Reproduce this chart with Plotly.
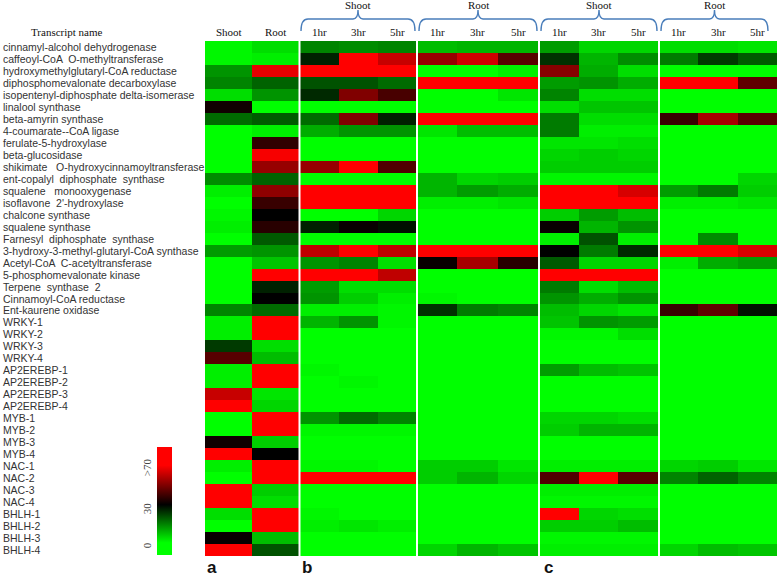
import plotly.graph_objects as go

genes = [
    "cinnamyl-alcohol dehydrogenase",
    "caffeoyl-CoA  O-methyltransferase",
    "hydroxymethylglutaryl-CoA reductase",
    "diphosphomevalonate decarboxylase",
    "isopentenyl-diphosphate delta-isomerase",
    "linalool synthase",
    "beta-amyrin synthase",
    "4-coumarate--CoA ligase",
    "ferulate-5-hydroxylase",
    "beta-glucosidase",
    "shikimate   O-hydroxycinnamoyltransferase",
    "ent-copalyl  diphosphate  synthase",
    "squalene   monooxygenase",
    "isoflavone  2'-hydroxylase",
    "chalcone synthase",
    "squalene synthase",
    "Farnesyl  diphosphate  synthase",
    "3-hydroxy-3-methyl-glutaryl-CoA synthase",
    "Acetyl-CoA  C-acetyltransferase",
    "5-phosphomevalonate kinase",
    "Terpene  synthase  2",
    "Cinnamoyl-CoA reductase",
    "Ent-kaurene oxidase",
    "WRKY-1", "WRKY-2", "WRKY-3", "WRKY-4",
    "AP2EREBP-1", "AP2EREBP-2", "AP2EREBP-3", "AP2EREBP-4",
    "MYB-1", "MYB-2", "MYB-3", "MYB-4",
    "NAC-1", "NAC-2", "NAC-3", "NAC-4",
    "BHLH-1", "BHLH-2", "BHLH-3", "BHLH-4",
]

column_labels = ["Shoot", "Root", "1hr", "3hr", "5hr", "1hr", "3hr", "5hr",
                 "1hr", "3hr", "5hr", "1hr", "3hr", "5hr"]
group_labels = ["Shoot", "Root", "Shoot", "Root"]
panel_labels = ["a", "b", "c"]
scale_tick_values = [0, 30, 70]
scale_tick_texts = ["0", "30", ">70"]

# expression values, one list per column
a_shoot = [3, 3, 15, 17, 6, 35, 20, 2, 2, 2, 2, 16, 4, 2, 3, 4, 2, 14, 2, 2, 2, 2, 17,
           4, 4, 26, 44, 4, 4, 58, 65, 2, 2, 35, 65, 4, 2, 65, 65, 6, 2, 34, 65]
a_root = [6, 4, 62, 21, 15, 2, 22, 4, 39, 64, 52, 21, 51, 40, 33, 38, 22, 15, 9, 65, 29, 33, 20,
          65, 65, 6, 10, 65, 65, 5, 7, 65, 65, 8, 33, 65, 65, 8, 6, 65, 65, 10, 23]
b_shoot_1hr = [17, 29, 65, 23, 28, 2, 20, 12, 2, 2, 52, 2, 65, 65, 2, 29, 2, 57, 15, 65, 14, 15, 4,
               11, 2, 2, 2, 3, 2, 2, 2, 15, 3, 2, 2, 3, 65, 2, 2, 3, 4, 2, 2]
b_shoot_3hr = [16, 65, 65, 23, 49, 2, 49, 15, 2, 2, 65, 2, 65, 65, 2, 34, 2, 65, 17, 65, 6, 8, 4,
               15, 2, 2, 2, 2, 3, 2, 2, 20, 3, 2, 2, 3, 65, 2, 2, 2, 5, 2, 2]
b_shoot_5hr = [17, 58, 65, 20, 42, 2, 29, 15, 2, 2, 43, 2, 65, 65, 7, 31, 2, 57, 6, 57, 6, 4, 3,
               3, 2, 2, 2, 2, 2, 2, 2, 17, 3, 2, 2, 2, 65, 2, 2, 2, 4, 2, 2]
b_root_1hr = [10, 52, 2, 65, 2, 2, 65, 5, 2, 2, 2, 11, 11, 4, 2, 2, 2, 65, 34, 2, 2, 3, 27,
              2, 2, 2, 2, 2, 2, 2, 2, 2, 2, 2, 2, 8, 8, 2, 2, 2, 2, 2, 7]
b_root_3hr = [11, 59, 2, 65, 2, 2, 65, 10, 2, 2, 2, 7, 14, 4, 2, 2, 2, 65, 54, 2, 2, 2, 18,
              2, 2, 2, 2, 2, 2, 2, 2, 2, 2, 2, 2, 8, 11, 2, 2, 2, 2, 2, 11]
b_root_5hr = [11, 44, 4, 65, 5, 2, 65, 10, 2, 2, 2, 8, 12, 5, 2, 2, 2, 65, 38, 2, 2, 2, 17,
              2, 2, 2, 2, 2, 2, 2, 2, 2, 2, 2, 2, 5, 7, 2, 2, 2, 2, 2, 9]
c_shoot_1hr = [14, 27, 50, 14, 17, 6, 18, 18, 5, 7, 8, 3, 65, 65, 8, 34, 4, 33, 22, 65, 18, 15, 10,
               9, 3, 2, 2, 14, 2, 2, 2, 7, 8, 2, 2, 4, 43, 4, 3, 65, 8, 3, 4]
c_shoot_3hr = [7, 11, 12, 15, 6, 9, 6, 4, 5, 8, 8, 3, 65, 65, 14, 11, 23, 18, 7, 65, 6, 12, 7,
               15, 3, 2, 2, 10, 2, 2, 2, 7, 11, 2, 2, 4, 65, 4, 3, 7, 8, 3, 4]
c_shoot_5hr = [7, 16, 6, 12, 6, 9, 6, 4, 6, 7, 8, 3, 60, 65, 10, 15, 4, 28, 7, 65, 10, 15, 5,
               14, 6, 2, 2, 9, 2, 2, 2, 6, 11, 2, 2, 4, 44, 4, 3, 6, 10, 3, 4]
c_root_1hr = [6, 18, 2, 65, 2, 2, 40, 2, 2, 2, 2, 2, 14, 4, 2, 2, 2, 65, 4, 2, 2, 2, 40,
              2, 2, 2, 2, 2, 2, 2, 2, 2, 2, 2, 2, 7, 17, 2, 2, 2, 2, 2, 7]
c_root_3hr = [6, 26, 2, 65, 2, 2, 54, 2, 2, 2, 2, 2, 18, 4, 2, 2, 16, 65, 12, 2, 2, 2, 45,
              2, 2, 2, 2, 2, 2, 2, 2, 2, 2, 2, 2, 8, 21, 2, 2, 2, 2, 2, 10]
c_root_5hr = [5, 22, 2, 45, 2, 2, 44, 2, 2, 2, 2, 7, 8, 5, 2, 2, 2, 60, 14, 2, 2, 2, 31,
              2, 2, 2, 2, 2, 2, 2, 2, 2, 2, 2, 2, 5, 17, 2, 2, 2, 2, 2, 9]

columns = [a_shoot, a_root, b_shoot_1hr, b_shoot_3hr, b_shoot_5hr,
           b_root_1hr, b_root_3hr, b_root_5hr,
           c_shoot_1hr, c_shoot_3hr, c_shoot_5hr,
           c_root_1hr, c_root_3hr, c_root_5hr]
z = [[col[i] for col in columns] for i in range(len(genes))]

# ---------------- layout constants (pixel based) ----------------
W, H = 777, 579
col_edges = [205, 252, 299, 339, 378, 417, 457, 498, 539, 579, 618, 659, 698, 738, 777]
separators = [299.5, 417, 539, 659]
brace_spans = [(301, 415), (419, 537), (541, 657), (661, 768)]
HM_TOP, HM_BOT = 41, 556
ZMIN, ZMAX = -8, 80


def py(px):
    return 1 - px / H


def pxx(px):
    return px / W


colorscale = [
    [0.0, "rgb(0,255,0)"],
    [(2 - ZMIN) / (ZMAX - ZMIN), "rgb(0,255,0)"],
    [(33 - ZMIN) / (ZMAX - ZMIN), "rgb(0,0,0)"],
    [(65 - ZMIN) / (ZMAX - ZMIN), "rgb(255,0,0)"],
    [1.0, "rgb(255,0,0)"],
]

CB_TOP, CB_BOT = 447, 555

fig = go.Figure()
fig.add_trace(go.Heatmap(
    z=z, x=col_edges, y=genes,
    zmin=ZMIN, zmax=ZMAX, colorscale=colorscale,
    colorbar=dict(
        x=pxx(157), xanchor="left", y=py((CB_TOP + CB_BOT) / 2), yanchor="middle",
        len=CB_BOT - CB_TOP, lenmode="pixels", thickness=15,
        outlinewidth=0, showticklabels=False, ticks="", xpad=0, ypad=0,
    ),
    hoverongaps=False,
))

ann = []
serif = "Liberation Serif, Times New Roman, serif"
sans = "Liberation Sans, Arial, sans-serif"

# row labels
for g in genes:
    ann.append(dict(x=pxx(1), xref="paper", y=g, yref="y", text=g.replace("  ", " \u00a0"),
                    xanchor="left", yanchor="middle", showarrow=False,
                    font=dict(family=sans, size=10.5, color="#333333")))

# header
ann.append(dict(x=pxx(67), xref="paper", y=py(32), yref="paper", text="Transcript name",
                showarrow=False, font=dict(family=serif, size=11, color="#111111"),
                xanchor="center", yanchor="middle"))
for j, lab in enumerate(column_labels):
    xm = (col_edges[j] + col_edges[j + 1]) / 2
    ann.append(dict(x=xm, xref="x", y=py(32), yref="paper", text=lab, showarrow=False,
                    font=dict(family=serif, size=11, color="#111111"),
                    xanchor="center", yanchor="middle"))

shapes = []
for (x0, x1), lab in zip(brace_spans, group_labels):
    xm = (x0 + x1) / 2
    ann.append(dict(x=xm, xref="x", y=py(5), yref="paper", text=lab, showarrow=False,
                    font=dict(family=serif, size=11, color="#111111"),
                    xanchor="center", yanchor="middle"))
    ye, yh, yp = py(31), py(19), py(10)
    path = (f"M {x0},{ye} Q {x0},{yh} {x0 + 7},{yh} L {xm - 5},{yh} "
            f"Q {xm},{yh} {xm},{yp} Q {xm},{yh} {xm + 5},{yh} "
            f"L {x1 - 7},{yh} Q {x1},{yh} {x1},{ye}")
    shapes.append(dict(type="path", path=path, xref="x", yref="paper",
                       line=dict(color="#4a7ebb", width=1.4)))

for xs in separators:
    shapes.append(dict(type="line", x0=xs, x1=xs, xref="x", y0=py(HM_BOT), y1=py(HM_TOP),
                       yref="paper", line=dict(color="white", width=2)))

# panel letters
for lab, xpx in zip(panel_labels, [205, 300, 542]):
    ann.append(dict(x=pxx(xpx), xref="paper", y=py(579), yref="paper", text=f"<b>{lab}</b>",
                    showarrow=False, xanchor="left", yanchor="bottom",
                    font=dict(family=sans, size=17, color="#111111")))

# colour scale labels
for v, t in zip(scale_tick_values, scale_tick_texts):
    ypx = CB_BOT - (v - ZMIN) / (ZMAX - ZMIN) * (CB_BOT - CB_TOP)
    if t.startswith(">"):
        ypx += 8
    ann.append(dict(x=pxx(147), xref="paper", y=py(ypx), yref="paper", text=t,
                    textangle=-90, showarrow=False, xanchor="center", yanchor="middle",
                    font=dict(family=serif, size=11, color="#444444")))

fig.update_layout(
    width=W, height=H, margin=dict(l=0, r=0, t=0, b=0),
    paper_bgcolor="white", plot_bgcolor="white",
    xaxis=dict(range=[col_edges[0], col_edges[-1]], domain=[pxx(col_edges[0]), 1],
               visible=False, fixedrange=True),
    yaxis=dict(type="category", range=[len(genes) - 0.5, -0.5],
               domain=[py(HM_BOT), py(HM_TOP)], visible=False, fixedrange=True),
    annotations=ann, shapes=shapes, showlegend=False,
)

fig.write_html("out.html", config={"displayModeBar": False},
               post_script="document.body.style.margin='0';document.body.style.overflow='hidden';")
